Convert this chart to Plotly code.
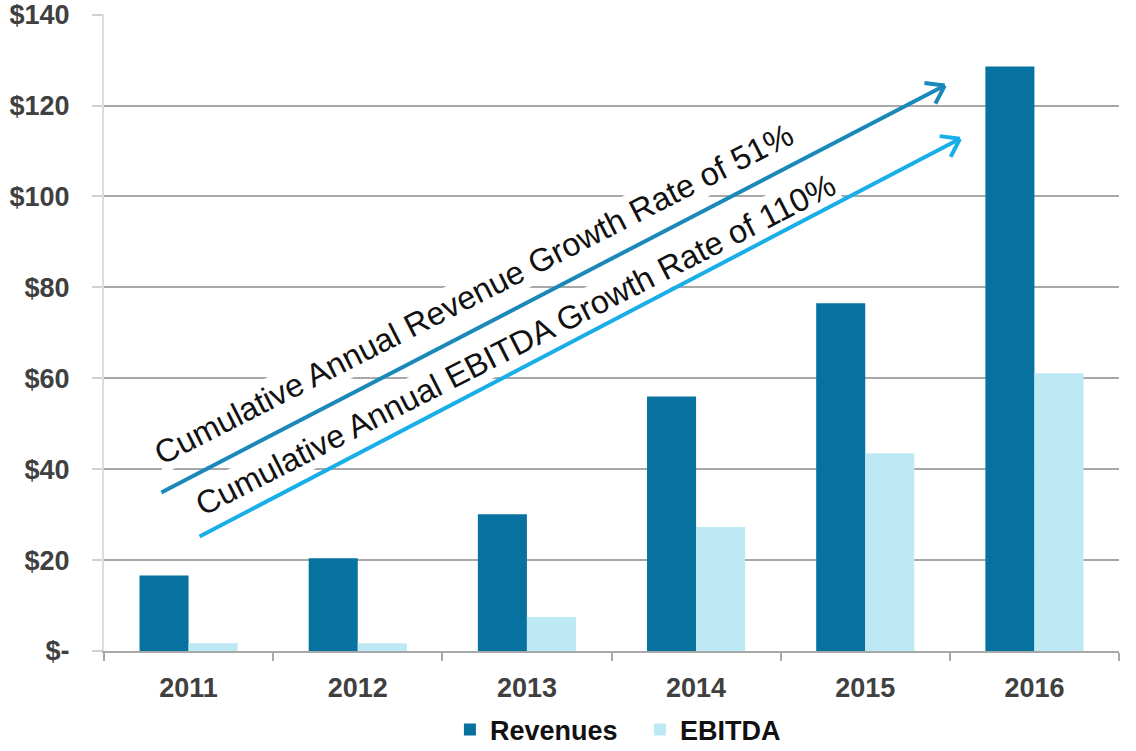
import numpy as np
import plotly.graph_objects as go

# ---- data ----
years = ["2011", "2012", "2013", "2014", "2015", "2016"]
revenues = [16.6, 20.4, 30.1, 56.0, 76.5, 128.6]
ebitda = [1.7, 1.7, 7.5, 27.3, 43.5, 61.1]
y_tickvals = [0, 20, 40, 60, 80, 100, 120, 140]
y_ticktext = ["$-", "$20", "$40", "$60", "$80", "$100", "$120", "$140"]

rev_label = "Cumulative Annual Revenue Growth Rate of 51%"
ebitda_label = "Cumulative Annual EBITDA Growth Rate of 110%"

# ---- layout constants ----
W, H = 1136, 751
ML, MR, MT, MB = 104, 17, 14, 100
Y_MAX = 140.15
PLOT_W = W - ML - MR
PLOT_H = H - MT - MB
PX_PER_CAT = PLOT_W / len(years)
PX_PER_USD = PLOT_H / Y_MAX

FONT = "Liberation Sans, Arial, sans-serif"
GRID = "#a8a8a8"
TICKFONT = dict(family=FONT, size=27, color="#404040", weight="bold")

REV_COLOR = "#07729f"
EBITDA_COLOR = "#bde9f5"
ARROW1 = "#1a88b8"
ARROW2 = "#1aaee8"

fig = go.Figure()
fig.add_trace(go.Bar(x=years, y=revenues, name="Revenues",
                     marker=dict(color=REV_COLOR, line=dict(width=0))))
fig.add_trace(go.Bar(x=years, y=ebitda, name="EBITDA",
                     marker=dict(color=EBITDA_COLOR, line=dict(width=0))))

# arrows (data coords: category index, dollars)
arrows = [
    dict(tail=(-0.17, 34.7), tip=(4.47, 124.4), color=ARROW1),
    dict(tail=(0.056, 25.0), tip=(4.56, 112.7), color=ARROW2),
]
texts = [
    dict(text=rev_label, x=1.687, y=78.5),
    dict(text=ebitda_label, x=1.93, y=67.4),
]

annotations = []
for t in texts:
    annotations.append(dict(
        x=t["x"], y=t["y"], xref="x", yref="y", text=t["text"],
        showarrow=False, textangle=-27, bgcolor="white", borderpad=1,
        font=dict(family=FONT, size=32.5, color="#111111"),
        xanchor="center", yanchor="middle"))

for a in arrows:
    (x0, y0), (x1, y1) = a["tail"], a["tip"]
    annotations.append(dict(
        x=x1, y=y1, ax=x0, ay=y0, xref="x", yref="y", axref="x", ayref="y",
        text="", showarrow=True, arrowhead=0, arrowwidth=4,
        arrowcolor=a["color"], standoff=0, startstandoff=0))
    # open chevron head
    dxp = (x1 - x0) * PX_PER_CAT
    dyp = -(y1 - y0) * PX_PER_USD
    n = np.hypot(dxp, dyp)
    bx, by = -dxp / n, -dyp / n
    for s in (1, -1):
        ang = np.deg2rad(35) * s
        rx = bx * np.cos(ang) - by * np.sin(ang)
        ry = bx * np.sin(ang) + by * np.cos(ang)
        annotations.append(dict(
            x=x1, y=y1, xref="x", yref="y", ax=rx * 22, ay=ry * 22,
            text="", showarrow=True, arrowhead=0, arrowwidth=4,
            arrowcolor=a["color"], standoff=0, startstandoff=0))

fig.update_layout(
    width=W, height=H,
    margin=dict(l=ML, r=MR, t=MT, b=MB, pad=0, autoexpand=False),
    paper_bgcolor="white", plot_bgcolor="white",
    barmode="group", bargap=0.42, bargroupgap=0,
    font=dict(family=FONT),
    legend=dict(orientation="h", x=0.528, xanchor="center", y=-0.124, yanchor="middle",
                font=dict(family=FONT, size=27, color="#111111", weight="bold"),
                itemwidth=30, traceorder="normal", entrywidth=145),
    annotations=annotations,
)
fig.update_xaxes(
    showline=True, linecolor=GRID, linewidth=2, automargin=False,
    ticks="outside", tickson="boundaries", ticklen=8, tickcolor=GRID, tickwidth=2,
    tickfont=TICKFONT, ticklabelstandoff=12, showgrid=False)
fig.update_yaxes(
    range=[0, Y_MAX], tickvals=y_tickvals, ticktext=y_ticktext, automargin=False,
    showgrid=True, gridcolor=GRID, gridwidth=2,
    showline=True, linecolor="#dcdcdc", linewidth=2,
    ticks="outside", ticklen=10, tickcolor="#d0d0d0", tickwidth=2,
    tickfont=TICKFONT, ticklabelstandoff=17, zeroline=False)

fig.write_html("out.html")
